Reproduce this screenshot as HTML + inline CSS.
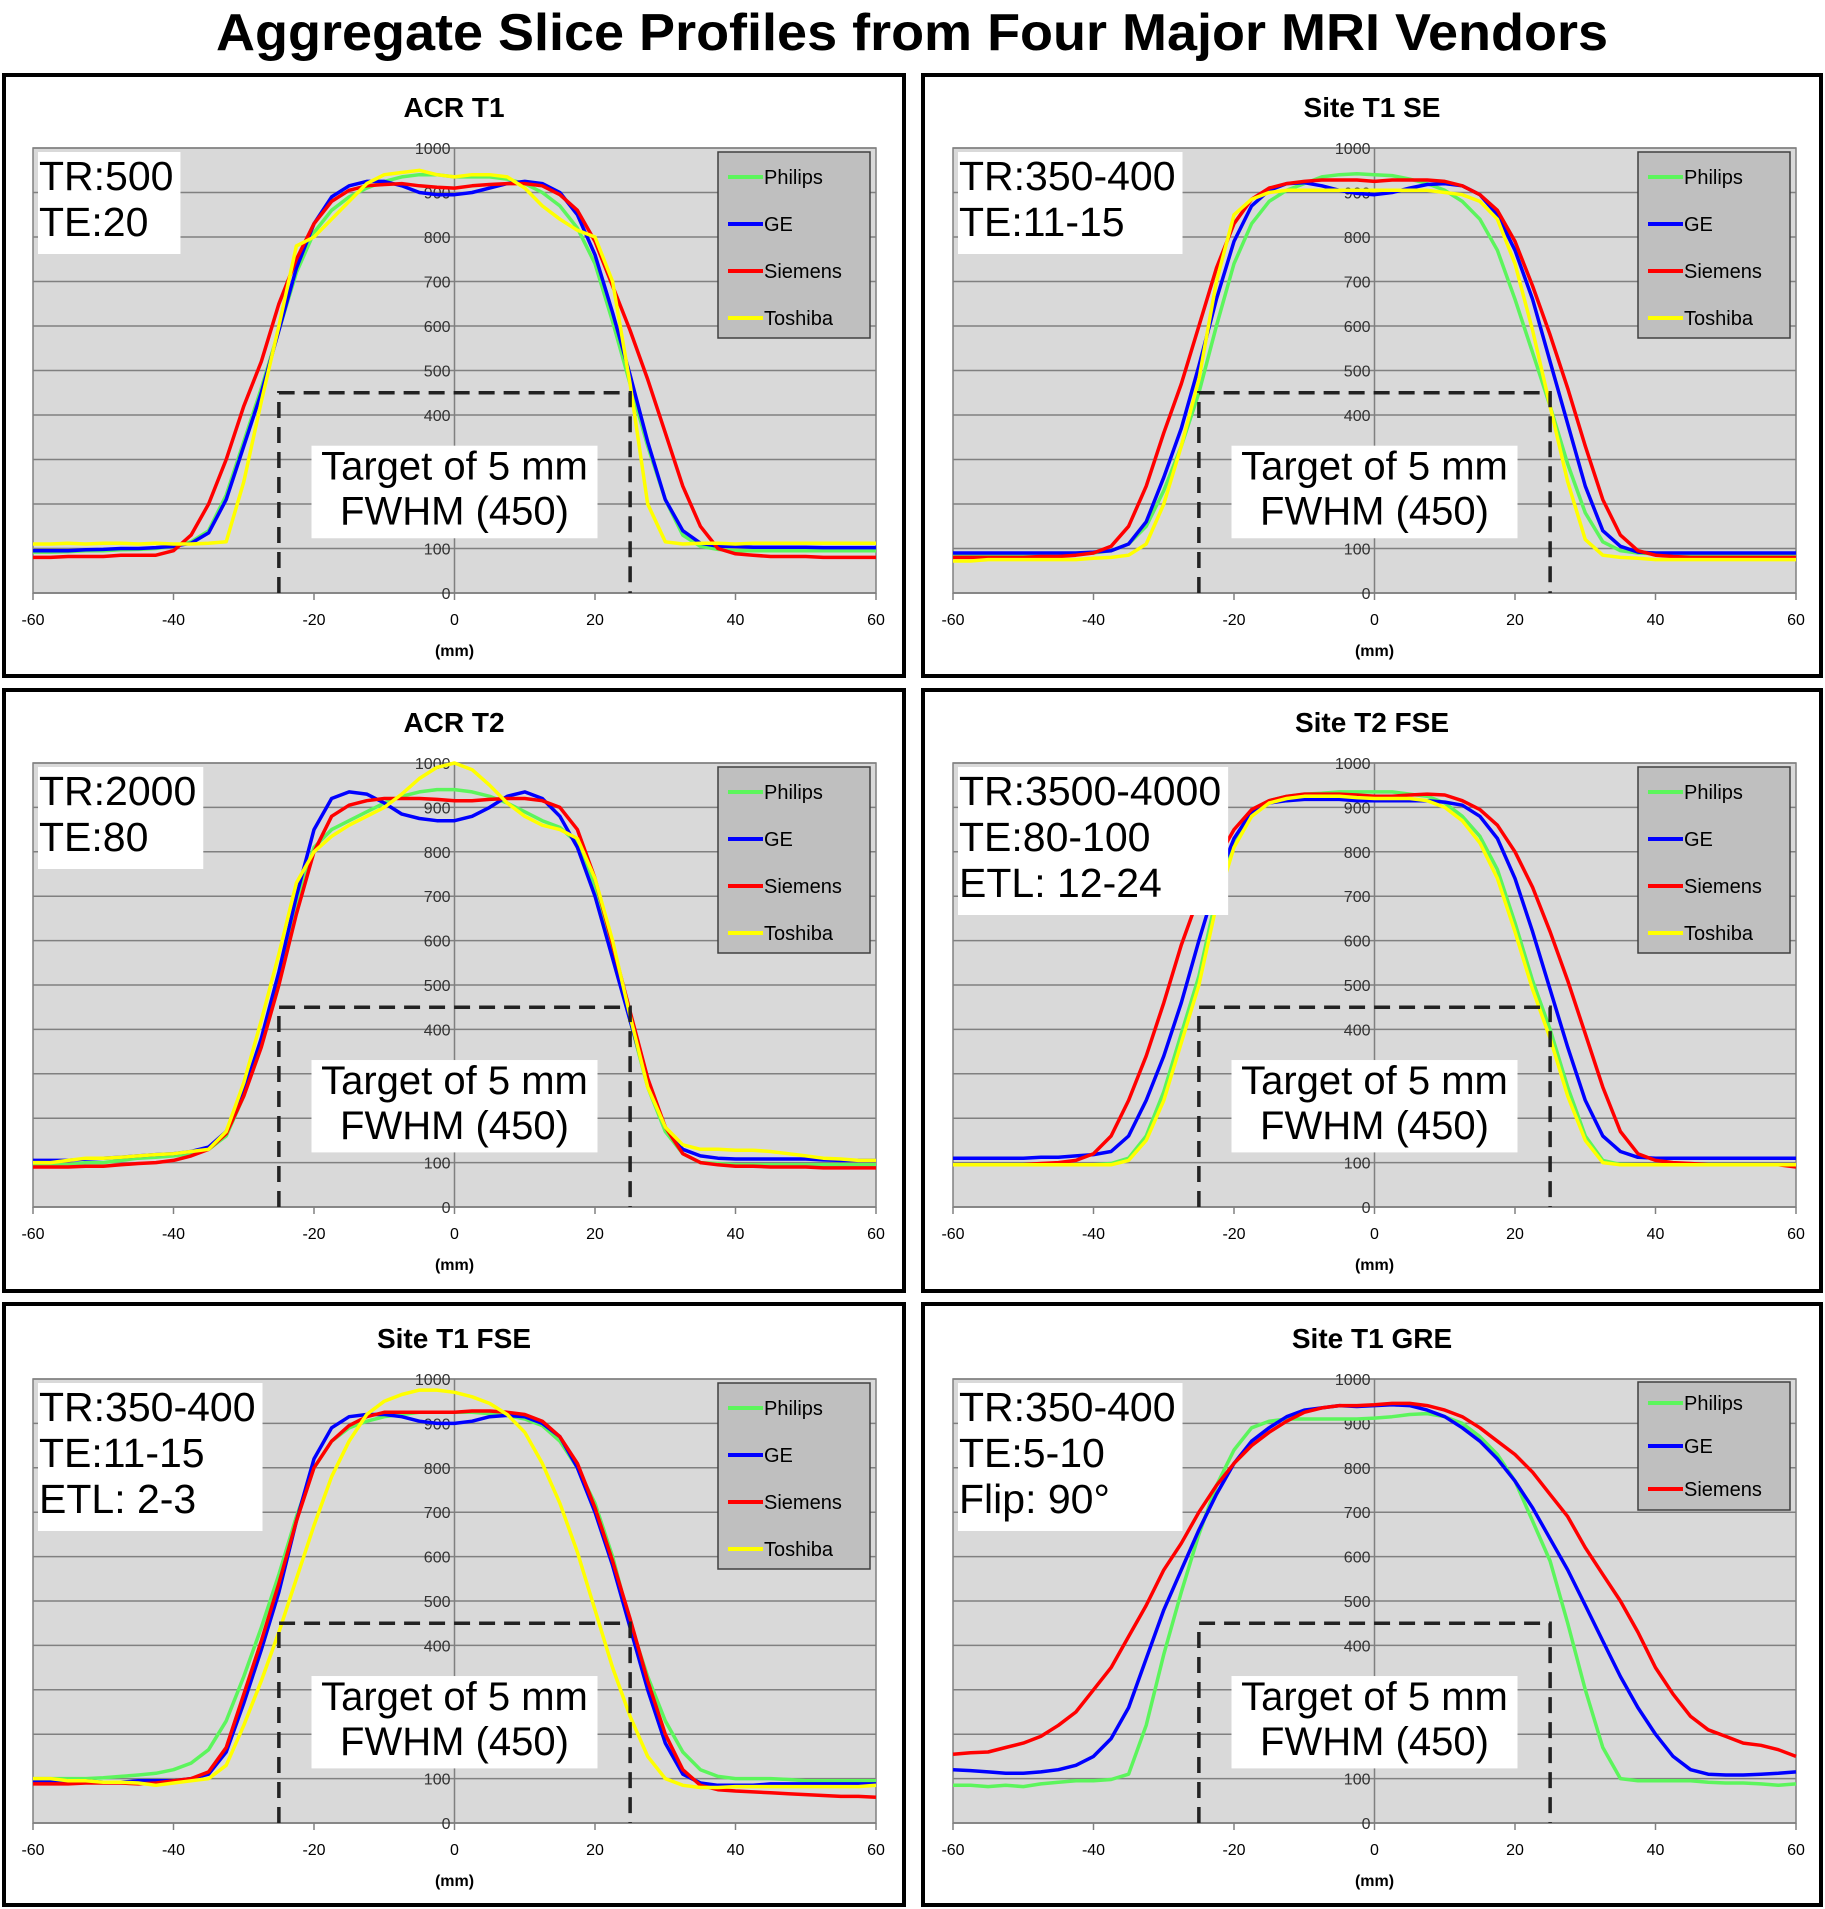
<!DOCTYPE html>
<html><head><meta charset="utf-8"><style>
html,body{margin:0;padding:0;background:#fff;}
svg{display:block;}
text{font-family:"Liberation Sans",Arial,sans-serif;}
</style></head>
<body>
<svg id="fig" width="1825" height="1909" viewBox="0 0 1825 1909" xmlns="http://www.w3.org/2000/svg">
<text x="912" y="50" text-anchor="middle" font-size="52" font-weight="bold" textLength="1392" lengthAdjust="spacingAndGlyphs">Aggregate Slice Profiles from Four Major MRI Vendors</text>
</svg>
<script>
const xs = [-60,-57.5,-55,-52.5,-50,-47.5,-45,-42.5,-40,-37.5,-35,-32.5,-30,-27.5,-25,-22.5,-20,-17.5,-15,-12.5,-10,-7.5,-5,-2.5,0,2.5,5,7.5,10,12.5,15,17.5,20,22.5,25,27.5,30,32.5,35,37.5,40,42.5,45,47.5,50,52.5,55,57.5,60];
const xTicks = [-60,-40,-20,0,20,40,60];
const yTicks = [0,100,200,300,400,500,600,700,800,900,1000];
const yTickLabels = ["0","100","","","400","500","600","700","800","900","1000"];
const targetX = [-25,25];
const targetY = 450;
const panelTitles = ["ACR T1","Site T1 SE","ACR T2","Site T2 FSE","Site T1 FSE","Site T1 GRE"];
const panelParams = [["TR:500","TE:20"],["TR:350-400","TE:11-15"],["TR:2000","TE:80"],["TR:3500-4000","TE:80-100","ETL: 12-24"],["TR:350-400","TE:11-15","ETL: 2-3"],["TR:350-400","TE:5-10","Flip: 90°"]];
const vendors = ["Philips","GE","Siemens","Toshiba"];

const p1Philips = [92,92,93,95,95,97,98,100,105,115,140,220,340,460,590,720,810,860,890,910,925,935,940,940,935,935,935,930,920,900,870,820,740,610,470,330,210,130,105,98,95,95,95,95,95,95,95,95,95];
const p1GE = [95,95,95,97,98,100,100,102,105,112,135,210,330,450,590,730,830,890,915,925,925,915,900,895,895,900,910,920,925,920,900,850,760,630,490,340,210,140,112,105,105,103,103,103,103,102,102,102,102];
const p1Siemens = [80,80,82,82,82,85,85,85,95,130,200,300,420,520,650,750,830,880,905,915,918,920,915,912,910,915,918,920,920,915,895,860,790,690,590,480,360,240,150,100,88,85,82,82,82,80,80,80,80];
const p1Toshiba = [110,110,112,110,112,112,110,112,110,110,112,115,250,430,600,780,800,840,880,920,940,945,950,940,935,940,940,935,910,870,840,815,800,700,470,200,115,110,112,112,110,112,112,112,112,112,112,112,112];

const p2Philips = [85,85,85,85,85,85,86,88,90,95,110,150,230,330,450,600,740,830,880,905,920,935,940,942,940,938,930,920,905,880,840,770,660,540,420,290,180,115,95,90,88,86,85,85,85,85,85,85,85];
const p2GE = [90,90,90,90,90,90,90,90,92,95,110,160,260,370,510,660,790,870,905,920,922,915,905,898,895,900,910,918,920,915,895,850,770,660,520,380,240,140,105,92,90,90,90,90,90,90,90,90,90];
const p2Siemens = [80,80,80,80,80,82,82,85,90,105,150,240,360,470,600,730,830,885,910,920,925,928,928,928,925,928,928,928,925,915,895,860,790,690,580,460,330,210,130,95,85,82,80,80,80,80,80,80,80];
const p2Toshiba = [72,72,75,75,75,75,75,75,78,80,85,110,200,330,480,700,850,885,900,905,905,905,905,905,905,905,905,905,900,895,880,840,740,590,420,250,120,85,80,78,75,75,75,75,75,75,75,75,75];

const p3Philips = [95,95,95,100,100,105,110,112,115,120,130,160,250,370,520,680,810,850,870,890,910,925,935,940,940,935,925,910,890,870,855,820,720,570,420,270,170,120,100,98,95,95,95,95,95,95,95,95,95];
const p3GE = [105,105,105,108,110,112,115,118,120,125,135,170,260,380,530,700,850,920,935,930,910,885,875,870,870,880,900,925,935,920,880,810,700,560,420,280,180,130,115,110,108,108,108,108,108,106,105,105,105];
const p3Siemens = [90,90,90,92,92,95,98,100,105,115,130,165,250,360,500,660,800,880,905,915,920,920,920,918,915,915,918,920,920,915,900,850,740,590,440,290,180,120,100,95,92,92,90,90,90,88,88,88,88];
const p3Toshiba = [100,100,105,110,110,112,115,118,120,125,130,170,280,420,570,730,800,835,860,880,900,930,965,990,1000,985,950,910,880,860,850,830,740,600,430,270,180,140,130,130,128,128,125,120,115,110,108,105,105];

const p4Philips = [95,95,95,95,95,95,95,95,95,98,110,160,260,390,520,700,820,885,915,925,930,932,935,935,935,935,930,925,910,880,835,760,640,510,400,270,160,105,96,95,95,95,95,95,95,95,95,95,95];
const p4GE = [110,110,110,110,110,112,112,115,118,125,160,240,340,460,600,730,830,890,910,915,918,918,918,915,915,915,915,915,912,905,880,830,740,620,490,360,240,160,125,112,110,110,110,110,110,110,110,110,110];
const p4Siemens = [95,95,95,95,95,98,100,105,120,160,240,340,460,590,700,780,850,895,915,925,930,930,930,928,925,925,928,930,928,915,895,860,800,720,620,510,390,270,170,120,105,100,98,95,95,95,95,95,90];
const p4Toshiba = [95,95,95,95,95,95,95,95,95,95,105,150,240,370,500,680,810,880,910,920,925,925,925,922,920,920,920,915,900,870,820,740,620,490,380,250,150,100,95,95,95,95,95,95,95,95,95,95,95];

const p5Philips = [100,100,100,100,102,105,108,112,120,135,165,230,330,440,560,690,800,860,890,905,915,920,925,925,925,925,922,918,910,895,860,800,720,600,450,330,230,160,120,105,100,100,100,98,95,95,95,95,95];
const p5GE = [95,95,95,95,92,92,95,95,95,100,110,160,270,390,520,680,820,890,915,920,920,915,905,900,900,905,915,918,915,900,870,800,700,580,440,300,180,110,90,85,85,85,88,88,88,88,88,88,88];
const p5Siemens = [88,88,88,90,90,90,88,90,95,100,115,170,290,410,540,680,800,860,895,915,925,925,925,925,925,928,928,925,920,905,870,810,710,590,460,320,200,120,85,75,72,70,68,66,64,62,60,60,58];
const p5Toshiba = [100,100,95,95,92,92,90,85,90,95,100,130,220,320,430,550,670,780,860,920,950,965,975,975,970,960,945,920,880,810,720,610,480,350,240,150,100,85,80,80,82,82,82,82,82,82,82,82,85];

const p6Philips = [85,85,82,85,82,88,92,95,95,98,110,220,380,520,650,760,840,890,905,910,910,910,910,910,912,915,920,922,915,900,870,830,770,680,590,450,300,170,100,95,95,95,95,92,90,90,88,85,88];
const p6GE = [120,118,115,112,112,115,120,130,150,190,260,370,480,570,660,740,810,860,890,915,930,935,940,938,940,942,940,930,915,890,860,820,770,710,640,570,490,410,330,260,200,150,120,110,108,108,110,112,115];
const p6Siemens = [155,158,160,170,180,195,220,250,300,350,420,490,570,630,700,760,810,850,880,905,925,935,940,940,942,945,945,940,930,915,890,860,830,790,740,690,620,560,500,430,350,290,240,210,195,180,175,165,150];

const seriesColors = {Philips:"#5cf55c",GE:"#0000ff",Siemens:"#ff0000",Toshiba:"#ffff00"};
const panelSeries = [
  {Philips:p1Philips,GE:p1GE,Siemens:p1Siemens,Toshiba:p1Toshiba},
  {Philips:p2Philips,GE:p2GE,Siemens:p2Siemens,Toshiba:p2Toshiba},
  {Philips:p3Philips,GE:p3GE,Siemens:p3Siemens,Toshiba:p3Toshiba},
  {Philips:p4Philips,GE:p4GE,Siemens:p4Siemens,Toshiba:p4Toshiba},
  {Philips:p5Philips,GE:p5GE,Siemens:p5Siemens,Toshiba:p5Toshiba},
  {Philips:p6Philips,GE:p6GE,Siemens:p6Siemens}
];

const NS = "http://www.w3.org/2000/svg";
const svg = document.getElementById('fig');
function mk(tag, attrs, parent){
  const e = document.createElementNS(NS, tag);
  for (const k in attrs) e.setAttribute(k, attrs[k]);
  (parent||svg).appendChild(e);
  return e;
}
const colBorder = [[4,904],[923,1821]];
const colPlot = [[33,876],[953,1796]];
const rowBorder = [[75,676],[690,1291],[1304,1905]];
const rowPlot = [[148,593],[763,1207],[1379,1823]];

panelTitles.forEach((title, i) => {
  const c = i % 2, r = Math.floor(i / 2);
  const g = mk('g', {});
  
  
  const bx0 = colBorder[c][0], bx1 = colBorder[c][1], by0 = rowBorder[r][0], by1 = rowBorder[r][1];
  const border = mk('rect', {x:bx0, y:by0, width:bx1-bx0, height:by1-by0, fill:'#fff', stroke:'#000', 'stroke-width':4}, g);
  
  
  const px0 = colPlot[c][0], px1 = colPlot[c][1], py0 = rowPlot[r][0], py1 = rowPlot[r][1];
  const sx = v => px0 + (v + 60) / 120 * (px1 - px0);
  const sy = v => py1 - v / 1000 * (py1 - py0);
  const t = mk('text', {x:(bx0+bx1)/2, y:py0-31, 'text-anchor':'middle', 'font-size':28, 'font-weight':'bold'}, g);
  t.textContent = title;
  
  
  const bg = mk('rect', {x:px0, y:py0, width:px1-px0, height:py1-py0, fill:'#d9d9d9', stroke:'#808080', 'stroke-width':1.5}, g);
  
  
  yTicks.forEach(v => {
    const l = mk('line', {x1:px0, x2:px1, y1:sy(v), y2:sy(v), stroke:'#808080', 'stroke-width':1.5}, g);
    
    
  });
  const ax = mk('line', {x1:sx(0), x2:sx(0), y1:py0, y2:py1, stroke:'#808080', 'stroke-width':1.5}, g);
  
  
  const xax = mk('line', {x1:px0, x2:px1, y1:py1, y2:py1, stroke:'#808080', 'stroke-width':1.5}, g);
  
  
  yTicks.forEach((v, k) => {
    const lt = mk('text', {x:sx(0)-4, y:sy(v)+6, 'text-anchor':'end', 'font-size':16, fill:'#333'}, g);
    lt.textContent = yTickLabels[k];
    
    
  });
  xTicks.forEach(v => {
    const tk = mk('line', {x1:sx(v), x2:sx(v), y1:py1, y2:py1+7, stroke:'#808080', 'stroke-width':1.5}, g);
    
    
    const lt = mk('text', {x:sx(v), y:py1+32, 'text-anchor':'middle', 'font-size':16, fill:'#000'}, g);
    lt.textContent = String(v);
    
    
  });
  const xt = mk('text', {x:sx(0), y:py1+63, 'text-anchor':'middle', 'font-size':16, 'font-weight':'bold'}, g);
  xt.textContent = '(mm)';
  
  

  const tb = mk('rect', {x:sx(0)-143, y:sy(331), width:286, height:sy(123)-sy(331), fill:'#fff'}, g);
  
  
  ['Target of 5 mm','FWHM (450)'].forEach((s, k) => {
    const tt = mk('text', {x:sx(0), y:sy(331)+34+k*45, 'text-anchor':'middle', 'font-size':40}, g);
    tt.textContent = s;
    
    
  });
  const ser = panelSeries[i];
  Object.keys(ser).forEach(name => {
    const pts = ser[name].map((v, k) => sx(xs[k]).toFixed(1) + ',' + sy(v).toFixed(1)).join(' ');
    const pl = mk('polyline', {points:pts, fill:'none', stroke:seriesColors[name], 'stroke-width':3.5, 'stroke-linejoin':'round'}, g);
    
    
  });
  const dpath = 'M' + sx(targetX[0]) + ',' + sy(0) + ' L' + sx(targetX[0]) + ',' + sy(targetY) + ' L' + sx(targetX[1]) + ',' + sy(targetY) + ' L' + sx(targetX[1]) + ',' + sy(0);
  const dp = mk('path', {d:dpath, fill:'none', stroke:'#222', 'stroke-width':3.5, 'stroke-dasharray':'16,9'}, g);
  
  
  const params = panelParams[i];
  const pg = mk('g', {}, g);
  
  
  const pbox = mk('rect', {x:px0+5, y:py0+4, width:10, height:params.length*46+10, fill:'#fff'}, pg);
  let maxw = 0;
  params.forEach((s, k) => {
    const pt = mk('text', {x:px0+6, y:py0+42+k*46, 'font-size':41}, pg);
    pt.textContent = s;
    
    
    maxw = Math.max(maxw, pt.getComputedTextLength());
  });
  pbox.setAttribute('width', maxw + 8);
  const names = Object.keys(ser);
  const lg = mk('g', {}, g);
  
  
  const three = names.length === 3;
  const lx = px0 + 685, ly = py0 + (three ? 3 : 4);
  const lh = three ? 128 : 186;
  const step = three ? 43 : 47;
  const first = three ? 24 : 29;
  mk('rect', {x:lx, y:ly, width:152, height:lh, fill:'#bfbfbf', stroke:'#404040', 'stroke-width':1.5}, lg);
  names.forEach((name, k) => {
    const yy = py0 + first + k*step;
    const ll = mk('line', {x1:lx+10, x2:lx+45, y1:yy, y2:yy, stroke:seriesColors[name], 'stroke-width':4}, lg);
    
    
    const lt = mk('text', {x:lx+46, y:yy+7, 'font-size':20}, lg);
    lt.textContent = name;
    
    
  });
});
</script>
</body></html>
